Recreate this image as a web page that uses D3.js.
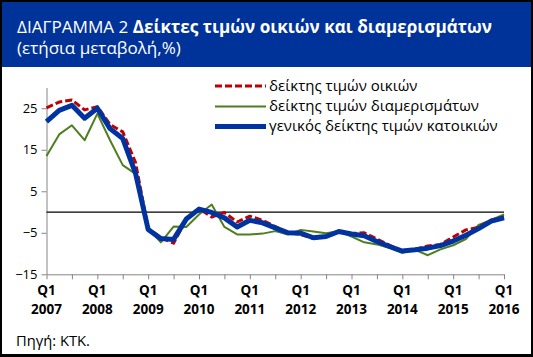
<!DOCTYPE html>
<html><head><meta charset="utf-8">
<script src="https://cdn.jsdelivr.net/npm/d3@7"></script>
<style>
body{margin:0;padding:0;background:#fff;}
svg{display:block;font-family:"Open Sans",sans-serif;}
</style></head>
<body><svg id="c" width="533" height="357"></svg>
<script>
const quarters = [];
for (let y = 2007; y <= 2016; y++) for (let q = 1; q <= 4; q++) if (!(y === 2016 && q > 1)) quarters.push("Q" + q + " " + y);

const houses = [25.1, 26.5, 27.0, 24.6, 25.4, 21.1, 19.3, 12.0,
  -4.0, -6.2, -7.5, -1.8, 0.8, -1.2, -0.1, -2.4,
  -1.0, -2.0, -3.5, -4.9, -5.4, -6.4, -5.9, -4.7,
  -5.2, -5.0, -6.5, -8.0, -9.4, -9.0, -8.2, -7.8,
  -6.0, -4.3, -3.7, -1.9, -1.2];
const apartments = [13.5, 18.7, 20.9, 17.3, 23.7, 17.3, 11.3, 9.2,
  -4.0, -7.3, -3.5, -3.6, -0.6, 1.8, -3.6, -5.4,
  -5.4, -5.2, -4.6, -5.4, -4.3, -4.7, -5.1, -4.6,
  -5.9, -7.3, -7.8, -8.7, -9.8, -9.1, -10.4, -9.0,
  -8.0, -6.5, -3.1, -1.9, -0.6];
const general = [21.8, 24.5, 25.7, 22.6, 25.0, 20.1, 17.7, 9.4,
  -4.2, -6.4, -6.6, -1.7, 0.7, -0.1, -1.4, -3.6,
  -2.0, -2.6, -3.8, -5.0, -5.1, -6.2, -5.9, -4.7,
  -5.3, -5.7, -7.1, -8.3, -9.4, -9.1, -8.7, -8.1,
  -7.0, -5.6, -4.0, -2.2, -1.4];
const yTicks = [-15, -5, 5, 15, 25];
const seriesNames = ["δείκτης τιμών οικιών", "δείκτης τιμών διαμερισμάτων", "γενικός δείκτης τιμών κατοικιών"];
const titleNormal = "ΔΙΑΓΡΑΜΜΑ 2 ";
const titleBold = "Δείκτες τιμών οικιών και διαμερισμάτων";
const subtitle = "(ετήσια μεταβολή,%)";
const source = "Πηγή: ΚΤΚ.";

const svg = d3.select("#c");
svg.append("rect").attr("width", 533).attr("height", 357).attr("fill", "#000");
svg.append("rect").attr("x", 2).attr("y", 2).attr("width", 529).attr("height", 352).attr("fill", "#fff");
svg.append("rect").attr("x", 2).attr("y", 2).attr("width", 529).attr("height", 65).attr("fill", "#003399");

// scale a text's font size so its rendered width matches a target width
function fit(sel, base, width) {
  sel.style("font-size", base + "px");
  const w = sel.node().getComputedTextLength();
  sel.style("font-size", (base * width / w).toFixed(2) + "px");
  return sel;
}

const t = svg.append("text").attr("x", 17).attr("y", 33).attr("fill", "#fff");
t.append("tspan").text(titleNormal);
t.append("tspan").attr("font-weight", "bold").text(titleBold);
fit(t, 18, 475);
fit(svg.append("text").attr("x", 17).attr("y", 54).attr("fill", "#fff").text(subtitle), 16, 164);

const x = d3.scalePoint().domain(d3.range(quarters.length)).range([46.5, 504]);
const y = d3.scaleLinear().domain([-15, 30]).range([274.3, 87.5]);

// y axis
const ya = svg.append("g").attr("transform", "translate(46.5,0)")
  .call(d3.axisLeft(y).tickValues(yTicks).tickSize(5).tickSizeOuter(0).tickFormat(d3.format("d")));
ya.select(".domain").attr("stroke", "#868686");
ya.selectAll(".tick line").attr("stroke", "#868686");
ya.selectAll(".tick text").attr("fill", "#000").style("font-size", "13px").style("font-family", "Open Sans").attr("x", -9);

// x axis
const xa = svg.append("g").attr("transform", `translate(0,${y(-15)})`)
  .call(d3.axisBottom(x).tickValues(d3.range(0, quarters.length, 2)).tickSize(5).tickSizeOuter(0).tickFormat(""));
xa.select(".domain").attr("stroke", "#868686");
xa.selectAll(".tick line").attr("stroke", "#868686");
const lab = svg.append("g").selectAll("text").data(d3.range(0, quarters.length, 4)).join("text")
  .attr("x", d => x(d)).attr("text-anchor", "middle").attr("font-weight", "bold").style("font-size", "13.5px");
lab.append("tspan").attr("x", d => x(d)).attr("y", 294.5).text(d => quarters[d].split(" ")[0]);
lab.append("tspan").attr("x", d => x(d)).attr("y", 313.5).text(d => quarters[d].split(" ")[1]);

// zero line
svg.append("line").attr("x1", x(0)).attr("x2", x(quarters.length - 1)).attr("y1", y(0)).attr("y2", y(0))
  .attr("stroke", "#000").attr("stroke-width", 1.3);

const line = d3.line().x((d, i) => x(i)).y(d => y(d));
const styles = [
  {data: apartments, color: "#4E7E1E", w: 2, dash: null},
  {data: houses, color: "#C00000", w: 3, dash: "7,3"},
  {data: general, color: "#0033A0", w: 5, dash: null}
];
styles.forEach(s => {
  svg.append("path").datum(s.data).attr("d", line).attr("fill", "none")
    .attr("stroke", s.color).attr("stroke-width", s.w).attr("stroke-dasharray", s.dash)
    .attr("stroke-linejoin", "round");
});

// legend
const leg = [
  {name: seriesNames[0], color: "#C00000", w: 3, dash: "7,3", y: 86, tw: 149},
  {name: seriesNames[1], color: "#4E7E1E", w: 2, dash: null, y: 106.5, tw: 212},
  {name: seriesNames[2], color: "#0033A0", w: 5, dash: null, y: 126.5, tw: 226}
];
leg.forEach(l => {
  svg.append("line").attr("x1", 215).attr("x2", 266).attr("y1", l.y).attr("y2", l.y)
    .attr("stroke", l.color).attr("stroke-width", l.w).attr("stroke-dasharray", l.dash);
  svg.append("text").attr("x", 269).attr("y", l.y + 4.5).style("font-size", "15px").text(l.name);
});

fit(svg.append("text").attr("x", 16).attr("y", 346).text(source), 14, 74);
</script></body></html>
